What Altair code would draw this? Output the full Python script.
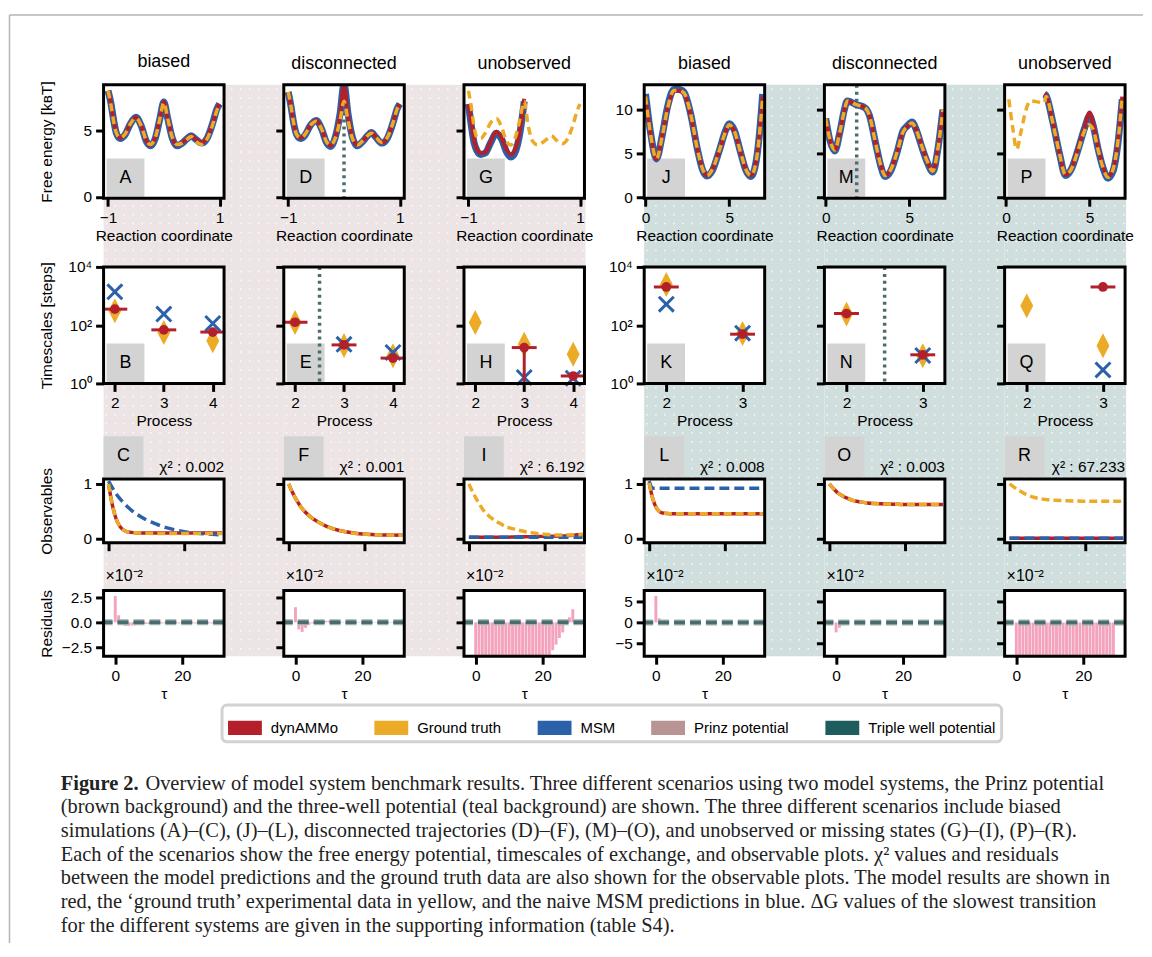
import altair as alt
import pandas as pd

FONT = "Liberation Sans"
SERIF = "Liberation Serif"

# ---------------- colours ----------------
RED = "#B3202C"
YEL = "#EBAB27"
BLUE = "#2B61A8"
DOT = "#4B6C6C"
RESBAR = "#F4A3BD"
BG = ["#EDE5E5", "#D0DEDE"]
BOXGREY = "#D3D3D3"

# ---------------- text ----------------
COL_TITLES = ["biased", "disconnected", "unobserved", "biased", "disconnected", "unobserved"]
ROW_TITLES = ["Free energy [kʙT]", "Timescales [steps]", "Observables", "Residuals"]
X_TITLES = ["Reaction coordinate", "Process", None, "τ"]
PANEL_LETTERS = [
    ["A", "D", "G", "J", "M", "P"],
    ["B", "E", "H", "K", "N", "Q"],
    ["C", "F", "I", "L", "O", "R"],
]
CHI2 = ["0.002", "0.001", "6.192", "0.008", "0.003", "67.233"]
RES_SCALE_TEXT = "×10⁻²"
LEGEND_NAMES = ["dynAMMo", "Ground truth", "MSM", "Prinz potential", "Triple well potential"]
LEGEND_COLORS = [RED, YEL, BLUE, "#B99494", "#1E5C5E"]
CAPTION_HEAD = "Figure 2."
CAPTION_LINES = [
    "Overview of model system benchmark results. Three different scenarios using two model systems, the Prinz potential",
    "(brown background) and the three-well potential (teal background) are shown. The three different scenarios include biased",
    "simulations (A)–(C), (J)–(L), disconnected trajectories (D)–(F), (M)–(O), and unobserved or missing states (G)–(I), (P)–(R).",
    "Each of the scenarios show the free energy potential, timescales of exchange, and observable plots. χ² values and residuals",
    "between the model predictions and the ground truth data are also shown for the observable plots. The model results are shown in",
    "red, the ‘ground truth’ experimental data in yellow, and the naive MSM predictions in blue. ΔG values of the slowest transition",
    "for the different systems are given in the supporting information (table S4).",
]

# ---------------- row 1: free energy ----------------
FE_PRINZ_X = [-1.0, -0.95, -0.9, -0.85, -0.78, -0.7, -0.6, -0.5, -0.4, -0.32, -0.24, -0.15, -0.07,
              0.0, 0.07, 0.15, 0.24, 0.33, 0.42, 0.49, 0.57, 0.68, 0.78, 0.88, 0.95, 1.0]
FE_A_GT = [8.0, 7.0, 5.7, 4.8, 4.45, 4.7, 5.5, 5.95, 5.3, 4.3, 3.95, 4.5, 5.9, 7.1, 5.9, 4.5, 3.95, 4.05, 4.35, 4.55, 4.2, 3.95, 4.4, 5.5, 6.5, 7.0]
FE_A_DYN = [8.0, 7.1, 5.8, 4.85, 4.45, 4.7, 5.5, 6.0, 5.3, 4.3, 3.9, 4.5, 5.9, 7.15, 5.9, 4.5, 3.9, 4.1, 4.4, 4.6, 4.35, 4.1, 4.5, 5.6, 6.6, 7.0]
FE_A_MSM = [8.0, 7.1, 5.8, 4.8, 4.4, 4.65, 5.5, 6.0, 5.3, 4.25, 3.85, 4.45, 5.9, 7.15, 5.9, 4.45, 3.85, 4.05, 4.4, 4.6, 4.35, 4.05, 4.45, 5.6, 6.6, 7.0]
FE_D_GT = [7.9, 6.8, 5.5, 4.7, 4.45, 4.7, 5.4, 5.7, 5.1, 4.2, 3.9, 4.5, 5.8, 7.2, 5.8, 4.4, 3.9, 4.2, 4.6, 4.8, 4.5, 4.1, 4.5, 5.6, 6.6, 7.0]
FE_D_DYN = [7.9, 6.8, 5.5, 4.7, 4.45, 4.7, 5.4, 5.75, 5.1, 4.2, 3.85, 4.6, 6.2, 8.4, 6.2, 4.5, 3.9, 4.2, 4.6, 4.85, 4.5, 4.1, 4.5, 5.6, 6.6, 7.0]
FE_D_MSM = [7.9, 6.8, 5.5, 4.7, 4.4, 4.65, 5.4, 5.75, 5.1, 4.15, 3.8, 4.6, 6.3, 8.5, 6.3, 4.5, 3.85, 4.15, 4.6, 4.85, 4.5, 4.05, 4.45, 5.6, 6.6, 7.0]
FE_G_GT = [8.0, 6.8, 5.3, 4.5, 4.4, 4.8, 5.6, 5.9, 5.2, 4.2, 3.9, 4.6, 6.0, 7.2, 5.4, 4.2, 3.9, 4.1, 4.4, 4.6, 4.3, 4.0, 4.4, 5.5, 6.5, 7.0]
FE_G_DYN = [7.0, 5.6, 4.3, 3.6, 3.3, 3.35, 4.2, 4.9, 4.4, 3.6, 3.2, 3.7, 5.2, 7.4]
FE_G_MSM = [7.0, 5.4, 4.1, 3.5, 3.2, 3.3, 4.1, 4.8, 4.3, 3.4, 3.0, 3.5, 5.0, 7.2]

FE_J_X = [0.0, 0.3, 0.65, 1.0, 1.3, 1.7, 2.0, 2.3, 2.7, 3.1, 3.4, 3.67, 4.0, 4.4, 4.8, 5.0, 5.3, 5.7, 6.0, 6.3, 6.6, 6.8, 7.0]
FE_J_GT = [11.5, 7.2, 4.4, 7.0, 10.0, 12.2, 12.2, 11.9, 9.5, 5.5, 3.3, 2.5, 3.2, 5.3, 7.6, 8.3, 7.6, 5.0, 3.2, 2.5, 4.0, 7.0, 11.5]
FE_J_DYN = [11.5, 7.3, 4.4, 7.0, 10.0, 12.1, 12.2, 11.9, 9.4, 5.5, 3.3, 2.5, 3.2, 5.3, 7.6, 8.3, 7.6, 5.0, 3.2, 2.5, 4.0, 7.0, 11.5]
FE_J_MSM = [11.8, 7.4, 4.4, 7.1, 10.2, 12.3, 12.3, 12.0, 9.5, 5.5, 3.2, 2.45, 3.1, 5.3, 7.7, 8.4, 7.7, 5.0, 3.1, 2.4, 4.0, 7.1, 11.8]

FE_M_X = [0.0, 0.25, 0.54, 0.85, 1.1, 1.29, 1.8, 2.36, 2.6, 3.0, 3.3, 3.54, 3.9, 4.3, 4.6, 4.9, 5.15, 5.45, 5.75, 6.05, 6.4, 6.7, 7.0]
FE_M_GT = [9.0, 6.6, 5.4, 7.5, 9.8, 11.0, 10.6, 10.2, 9.4, 6.0, 3.6, 2.5, 3.2, 5.4, 7.4, 8.1, 8.5, 7.5, 5.8, 4.2, 3.0, 5.5, 10.0]
FE_M_DYN = [9.0, 6.6, 5.4, 7.5, 9.8, 11.0, 10.6, 10.2, 9.4, 6.0, 3.6, 2.5, 3.2, 5.4, 7.4, 8.1, 8.5, 7.5, 5.8, 4.2, 3.0, 5.5, 10.0]
FE_M_MSM = [9.0, 6.5, 5.3, 7.5, 9.9, 11.0, 10.6, 10.2, 9.4, 6.0, 3.5, 2.4, 3.1, 5.4, 7.5, 8.2, 8.6, 7.5, 5.7, 4.1, 2.9, 5.5, 10.0]

FE_P_GT_X = [0.17, 0.4, 0.64, 0.9, 1.2, 1.44, 2.29, 2.4, 2.8, 3.2, 3.56, 3.9, 4.3, 4.7, 4.94, 5.2, 5.5, 5.8, 6.1, 6.4, 6.7, 6.95]
FE_P_GT = [11.2, 8.0, 5.5, 7.5, 10.0, 11.0, 10.8, 11.5, 8.5, 5.0, 2.6, 3.2, 5.3, 7.6, 8.3, 7.8, 5.5, 3.4, 2.3, 3.2, 6.5, 11.5]
FE_P_X = [2.29, 2.4, 2.8, 3.2, 3.56, 3.9, 4.3, 4.7, 5.0, 5.2, 5.5, 5.8, 6.1, 6.4, 6.7, 6.95]
FE_P_DYN = [11.8, 11.6, 8.6, 5.0, 2.6, 3.3, 5.5, 8.0, 9.7, 8.5, 5.8, 3.5, 2.4, 3.2, 6.5, 11.5]
FE_P_MSM = [11.8, 11.6, 8.6, 5.0, 2.5, 3.2, 5.4, 7.9, 9.3, 8.3, 5.6, 3.4, 2.2, 3.0, 6.3, 11.2]

DISCONNECT_FE = {1: 0.0, 4: 1.85}   # column -> reaction coordinate of the cut
DISCONNECT_TS = {1: 2.5, 4: 2.5}    # column -> process position of the cut

# ---------------- row 2: timescales ----------------
PROC_PRINZ = [2, 3, 4]
PROC_TW = [2, 3]
TS_GT = [[310, 56, 29], [124, 20, 8.9], [124, 22, 10], [2500, 52], [240, 8.9], [460, 19.6]]
TS_DYN = [[355, 69, 58], [126, 21, 7.4], [None, 17, 1.8], [2050, 49], [250, 9.6], [None, 2050]]
TS_MSM = [[1400, 240, 114], [None, 22, 11.5], [None, 1.6, 1.5], [525, 53], [None, 9.1], [None, 2.9]]
TS_DYN_LOW = [[None, None, None], [None, None, None], [None, 1.0, None], [None, None], [None, None], [None, None]]

# ---------------- row 3: observables ----------------
OBS_T = [0, 1, 2, 3, 4, 5, 6, 8, 10, 12, 15, 18, 22, 26, 30]
OBS_GT = [
    [1.0, 0.62, 0.36, 0.22, 0.15, 0.12, 0.11, 0.1, 0.095, 0.09, 0.09, 0.09, 0.09, 0.09, 0.09],
    [1.0, 0.84, 0.71, 0.6, 0.51, 0.44, 0.38, 0.29, 0.22, 0.17, 0.12, 0.09, 0.07, 0.06, 0.055],
    [1.0, 0.85, 0.72, 0.6, 0.5, 0.43, 0.37, 0.28, 0.21, 0.17, 0.12, 0.09, 0.065, 0.06, 0.07],
    [1.02, 0.72, 0.55, 0.48, 0.46, 0.455, 0.45, 0.45, 0.45, 0.45, 0.45, 0.45, 0.45, 0.45, 0.45],
    [1.0, 0.92, 0.85, 0.8, 0.76, 0.73, 0.7, 0.67, 0.65, 0.64, 0.63, 0.625, 0.62, 0.62, 0.62],
    [1.0, 0.95, 0.9, 0.86, 0.82, 0.79, 0.76, 0.73, 0.71, 0.7, 0.69, 0.685, 0.68, 0.68, 0.68],
]
OBS_DYN = [
    [1.0, 0.62, 0.36, 0.22, 0.15, 0.12, 0.11, 0.1, 0.1, 0.1, 0.1, 0.1, 0.1, 0.1, 0.1],
    [1.0, 0.84, 0.71, 0.6, 0.51, 0.44, 0.38, 0.29, 0.22, 0.17, 0.12, 0.09, 0.07, 0.06, 0.055],
    [0.02, 0.02, 0.02, 0.02, 0.02, 0.02, 0.02, 0.02, 0.02, 0.025, 0.03, 0.035, 0.04, 0.05, 0.07],
    [1.02, 0.72, 0.55, 0.48, 0.46, 0.455, 0.45, 0.45, 0.45, 0.45, 0.45, 0.45, 0.45, 0.45, 0.45],
    [1.0, 0.92, 0.85, 0.8, 0.76, 0.73, 0.7, 0.67, 0.65, 0.64, 0.63, 0.625, 0.62, 0.62, 0.62],
    [0.0, 0.0, 0.0, 0.0, 0.0, 0.0, 0.0, 0.0, 0.0, 0.0, 0.0, 0.0, 0.0, 0.0, 0.0],
]
OBS_MSM = [
    [1.05, 0.93, 0.82, 0.73, 0.65, 0.58, 0.52, 0.42, 0.34, 0.28, 0.2, 0.15, 0.1, 0.08, 0.065],
    None,
    [0.02, 0.02, 0.02, 0.02, 0.02, 0.02, 0.02, 0.02, 0.02, 0.02, 0.02, 0.02, 0.02, 0.02, 0.02],
    [1.05, 0.92, 0.92, 0.92, 0.92, 0.92, 0.92, 0.92, 0.92, 0.92, 0.92, 0.92, 0.92, 0.92, 0.92],
    None,
    [0.0, 0.0, 0.0, 0.0, 0.0, 0.0, 0.0, 0.0, 0.0, 0.0, 0.0, 0.0, 0.0, 0.0, 0.0],
]

# ---------------- row 4: residuals (x 10^-2) ----------------
RES_T = [0, 1, 2, 3, 4, 5, 6, 7, 8, 9, 10, 11, 12, 13, 14, 15, 16, 17, 18, 19, 20, 21, 22, 23, 24, 25, 26, 27, 28, 29]
RES = [
    [2.6, 0.7, -0.05, -0.35, -0.35, -0.3, -0.3, -0.25, -0.2, -0.15, -0.15, -0.12, -0.1, -0.1, -0.1,
     -0.1, -0.1, -0.1, -0.1, -0.1, -0.1, -0.1, -0.1, -0.1, -0.1, -0.1, -0.1, -0.1, -0.1, -0.1],
    [1.5, -0.7, -0.95, -0.55, -0.25, -0.1, 0.05, 0.1, 0.12, 0.15, 0.15, 0.12, 0.1, 0.08, 0.05,
     0.03, 0.0, -0.03, -0.05, -0.05, -0.05, -0.05, -0.05, -0.05, -0.05, -0.05, -0.05, -0.05, -0.05, -0.05],
    [-3.6, -3.6, -3.6, -3.6, -3.6, -3.6, -3.6, -3.6, -3.6, -3.6, -3.6, -3.6, -3.6, -3.6, -3.6,
     -3.6, -3.6, -3.6, -3.6, -3.6, -3.6, -3.5, -3.4, -2.76, -2.2, -1.55, -1.0, -0.2, 0.5, 1.3],
    [6.4, 1.0, 0.1, 0.05, 0.0, 0.0, 0.0, 0.0, 0.0, 0.0, 0.0, 0.0, 0.0, 0.0, 0.0,
     0.0, 0.0, 0.0, 0.0, 0.0, 0.0, 0.0, 0.0, 0.0, 0.0, 0.0, 0.0, 0.0, 0.0, 0.0],
    [-2.4, -1.3, -0.1, 0.05, 0.0, 0.0, 0.0, 0.0, 0.0, 0.0, 0.0, 0.0, 0.0, 0.0, 0.0,
     0.0, 0.0, 0.0, 0.0, 0.0, 0.0, 0.0, 0.0, 0.0, 0.0, 0.0, 0.0, 0.0, 0.0, 0.0],
    [-9.0, -9.0, -9.0, -9.0, -9.0, -9.0, -9.0, -9.0, -9.0, -9.0, -9.0, -9.0, -9.0, -9.0, -9.0,
     -9.0, -9.0, -9.0, -9.0, -9.0, -9.0, -9.0, -9.0, -9.0, -9.0, -9.0, -9.0, -9.0, -9.0, -9.0],
]

# ---------------- layout ----------------
W = 121
GAPX = 60
S = 48
H = [114, 117, 64, 66]
EXTRA = [0, 21, 48, 0]
HP = [H[i] + EXTRA[i] for i in range(4)]
DOT_PITCH = 9

XDOM = [[[-1.08, 1.08], [-0.08, 7.12]], [[1.77, 4.23], [1.71, 3.29]],
        [[-1.3, 30.5], [-1.3, 30.5]], [[-2.0, 31.0], [-2.0, 31.0]]]
XVALS = [[[-1, 1], [0, 5]], [[2, 3, 4], [2, 3]], [[0, 20], [0, 20]], [[0, 20], [0, 20]]]
YDOM = [[[-0.1, 8.45], [-0.08, 12.85]], [[1, 10000], [1, 10000]],
        [[-0.08, 1.09], [-0.08, 1.09]], [[-3.35, 3.15], [-8.15, 7.7]]]
YVALS = [[[0, 5], [0, 5, 10]], [[1, 100, 10000], [1, 100, 10000]], [[0, 1], [0, 1]],
         [[-2.5, 0, 2.5], [-5, 0, 5]]]
YFMT = [["d", "d"], ["d", "d"], ["d", "d"], [".1f", "d"]]


def mk_axis(values, labels, fmt, is_y, expr=None):
    kw = dict(values=values, labels=labels, format=fmt, domain=False, grid=False, ticks=True,
              tickSize=8, tickWidth=3, tickColor="black", labelColor="black", labelFont=FONT,
              labelFontSize=15.5, labelPadding=4, labelFlush=False, titleFont=FONT,
              titleFontSize=15.5, titleFontWeight="normal", titleColor="black", zindex=1)
    if expr:
        kw["labelExpr"] = expr
    if is_y:
        kw.update(minExtent=40, maxExtent=40, titlePadding=9)
    else:
        kw.update(titlePadding=3)
    return alt.Axis(**kw)


def X(r, c, field="x"):
    g = c // 3
    ax = mk_axis(XVALS[r][g], r != 2, "d", False)
    return alt.X(f"{field}:Q", scale=alt.Scale(domain=XDOM[r][g], nice=False, zero=False),
                 axis=ax, title=X_TITLES[r])


def Y(r, c, field="y"):
    g = c // 3
    expr = None
    if r == 1:
        sc = alt.Scale(type="log", domain=YDOM[r][g], range=[HP[r], EXTRA[r]], nice=False)
        expr = "datum.value == 1 ? '10⁰' : (datum.value == 100 ? '10²' : '10⁴')"
    elif r == 3:
        sc = alt.Scale(domain=YDOM[r][g], range=[HP[r], EXTRA[r]], nice=False, zero=False, clamp=True)
    else:
        sc = alt.Scale(domain=YDOM[r][g], range=[HP[r], EXTRA[r]], nice=False, zero=False)
    ax = mk_axis(YVALS[r][g], c in (0, 3), YFMT[r][g], True, expr)
    return alt.Y(f"{field}:Q", scale=sc, axis=ax, title=ROW_TITLES[r] if c == 0 else None)


ONE = pd.DataFrame({"k": [0]})


def deco_rect(color, x0, x1, y0, y1, **kw):
    return alt.Chart(ONE).mark_rect(color=color, **kw).encode(
        x=alt.value(x0), x2=alt.value(x1), y=alt.value(y0), y2=alt.value(y1))


def deco_text(text, x, y, size=15.5, align="center", baseline="middle", font=FONT, weight="normal", color="black"):
    return alt.Chart(ONE).mark_text(text=text, fontSize=size, align=align, baseline=baseline,
                                    font=font, fontWeight=weight, color=color).encode(
        x=alt.value(x), y=alt.value(y))


def line(r, c, xs, ys, color, width, dash=None, interp="monotone"):
    df = pd.DataFrame({"x": xs, "y": ys})
    kw = dict(color=color, strokeWidth=width, interpolate=interp, clip=True, strokeJoin="round")
    if dash:
        kw["strokeDash"] = dash
    return alt.Chart(df).mark_line(**kw).encode(x=X(r, c), y=Y(r, c))


def fe_layers(c):
    r = 0
    L = []
    if c in DISCONNECT_FE:
        df = pd.DataFrame({"x": [DISCONNECT_FE[c]]})
        L.append(alt.Chart(df).mark_rule(color=DOT, strokeWidth=3.5, strokeDash=[3, 4]).encode(
            x=X(r, c), y=alt.value(EXTRA[r]), y2=alt.value(HP[r])))
    if c == 0:
        sets = (FE_PRINZ_X, FE_A_MSM, FE_PRINZ_X, FE_A_DYN, FE_PRINZ_X, FE_A_GT)
    elif c == 1:
        sets = (FE_PRINZ_X, FE_D_MSM, FE_PRINZ_X, FE_D_DYN, FE_PRINZ_X, FE_D_GT)
    elif c == 2:
        sets = (FE_PRINZ_X[:14], FE_G_MSM, FE_PRINZ_X[:14], FE_G_DYN, FE_PRINZ_X, FE_G_GT)
    elif c == 3:
        sets = (FE_J_X, FE_J_MSM, FE_J_X, FE_J_DYN, FE_J_X, FE_J_GT)
    elif c == 4:
        sets = (FE_M_X, FE_M_MSM, FE_M_X, FE_M_DYN, FE_M_X, FE_M_GT)
    else:
        sets = (FE_P_X, FE_P_MSM, FE_P_X, FE_P_DYN, FE_P_GT_X, FE_P_GT)
    mx, my, dx, dy, gx, gy = sets
    L.append(line(r, c, mx, my, BLUE, 7))
    L.append(line(r, c, dx, dy, RED, 4))
    L.append(line(r, c, gx, gy, YEL, 3.5, [8, 5]))
    return L


def ts_layers(c):
    r = 1
    proc = PROC_PRINZ if c < 3 else PROC_TW
    L = []
    if c in DISCONNECT_TS:
        df = pd.DataFrame({"x": [DISCONNECT_TS[c]]})
        L.append(alt.Chart(df).mark_rule(color=DOT, strokeWidth=3.5, strokeDash=[3, 4]).encode(
            x=X(r, c), y=alt.value(EXTRA[r]), y2=alt.value(HP[r])))
    gt = pd.DataFrame({"x": proc, "y": TS_GT[c]}).dropna()
    L.append(alt.Chart(gt).mark_point(shape="M0,-1L0.52,0L0,1L-0.52,0Z", filled=True, size=625,
                                      color=YEL, opacity=1, strokeWidth=0).encode(x=X(r, c), y=Y(r, c)))
    ms = pd.DataFrame({"x": proc, "y": TS_MSM[c]}).dropna()
    L.append(alt.Chart(ms).mark_point(shape="M-1,-1L1,1M1,-1L-1,1", filled=False, size=225,
                                      color=BLUE, opacity=1, strokeWidth=3).encode(x=X(r, c), y=Y(r, c)))
    err = pd.DataFrame({"x": proc, "y": TS_DYN[c], "lo": TS_DYN_LOW[c]}).dropna()
    if len(err):
        L.append(alt.Chart(err).mark_rule(color=RED, strokeWidth=3).encode(
            x=X(r, c), y=Y(r, c), y2=alt.Y2("lo:Q")))
    dy = pd.DataFrame({"x": proc, "y": TS_DYN[c]}).dropna()
    L.append(alt.Chart(dy).mark_tick(orient="horizontal", size=25, thickness=3, color=RED,
                                     opacity=1).encode(x=X(r, c), y=Y(r, c)))
    L.append(alt.Chart(dy).mark_circle(size=95, color=RED, opacity=1).encode(x=X(r, c), y=Y(r, c)))
    return L


def obs_layers(c):
    r = 2
    L = []
    L.append(line(r, c, OBS_T, OBS_DYN[c], RED, 3.5))
    if OBS_MSM[c] is not None:
        L.append(line(r, c, OBS_T, OBS_MSM[c], BLUE, 3.5, [10, 5]))
    L.append(line(r, c, OBS_T, OBS_GT[c], YEL, 3.5, [8, 4]))
    return L


def res_layers(c):
    r = 3
    L = []
    df = pd.DataFrame({"x": RES_T, "y": RES[c], "zero": [0.0] * len(RES_T)})
    L.append(alt.Chart(df).mark_bar(size=2.9, color=RESBAR).encode(
        x=X(r, c), y=Y(r, c), y2=alt.Y2("zero:Q")))
    z = pd.DataFrame({"y": [0.0]})
    L.append(alt.Chart(z).mark_rule(color="#9DB3B3", strokeWidth=6, strokeDash=[11, 5]).encode(y=Y(r, c)))
    L.append(alt.Chart(z).mark_rule(color=DOT, strokeWidth=3.5, strokeDash=[11, 5]).encode(y=Y(r, c)))
    return L


def cell(r, c):
    g = c // 3
    right = W + 1 if c % 3 == 2 else W + GAPX
    bottom = HP[r] + S + EXTRA[r + 1] if r < 3 else HP[r]
    layers = [deco_rect(BG[g], 0, right, EXTRA[r], bottom)]
    # dotted hatch of the background
    yy = EXTRA[r] + 4.5
    while yy < bottom - 1:
        layers.append(alt.Chart(ONE).mark_rule(color="white", strokeWidth=1.5, strokeDash=[1.5, 7.5],
                                               opacity=0.85).encode(
            x=alt.value(2), x2=alt.value(right), y=alt.value(yy)))
        yy += DOT_PITCH
    layers.append(deco_rect("white", 0, W, EXTRA[r], HP[r]))
    if r in (0, 1):
        layers.append(deco_rect(BOXGREY, 3, 41, HP[r] - 40, HP[r] - 1.5))
        layers.append(deco_text(PANEL_LETTERS[r][c], 22, HP[r] - 20, size=18))
    elif r == 2:
        layers.append(deco_rect(BOXGREY, 0, 40, EXTRA[r] - 43, EXTRA[r] - 2))
        layers.append(deco_text(PANEL_LETTERS[r][c], 20, EXTRA[r] - 23, size=18))
        layers.append(deco_text("χ² : " + CHI2[c], W, EXTRA[r] - 7, size=15.5, align="right",
                                baseline="alphabetic"))
    else:
        layers.append(deco_text(RES_SCALE_TEXT, 2, -15, size=16, align="left"))
    if r == 0:
        layers += fe_layers(c)
    elif r == 1:
        layers += ts_layers(c)
    elif r == 2:
        layers += obs_layers(c)
    else:
        layers += res_layers(c)
    layers.append(alt.Chart(ONE).mark_rect(fillOpacity=0, stroke="black", strokeWidth=3).encode(
        x=alt.value(0), x2=alt.value(W), y=alt.value(EXTRA[r]), y2=alt.value(HP[r])))

    if r == 3 and c == 0:
        # page frame lines (relative to this panel)
        layers.append(alt.Chart(ONE).mark_rule(color="#B4B4B4", strokeWidth=1.5).encode(
            x=alt.value(-94.5), y=alt.value(-578), y2=alt.value(354)))
        layers.append(alt.Chart(ONE).mark_rule(color="#B4B4B4", strokeWidth=1.5).encode(
            x=alt.value(-94.5), x2=alt.value(1044), y=alt.value(-578)))
        leg = pd.DataFrame({"series": LEGEND_NAMES})
        layers.append(alt.Chart(leg).mark_rect().encode(
            x=alt.value(0), x2=alt.value(0), y=alt.value(0), y2=alt.value(0),
            fill=alt.Fill("series:N", title=None,
                          scale=alt.Scale(domain=LEGEND_NAMES, range=LEGEND_COLORS),
                          legend=alt.Legend(orient="none", legendX=119, legendY=623,
                                            direction="horizontal",
                                            symbolType="M-1,-0.42H1V0.42H-1Z", symbolSize=1156,
                                            symbolStrokeWidth=0, symbolOpacity=1,
                                            labelFont=FONT, labelFontSize=15, labelColor="black",
                                            labelOffset=9, columnPadding=36, padding=6,
                                            fillColor="white", strokeColor="#D2D2D2",
                                            cornerRadius=5, labelLimit=400))))
        cy0 = 194
        lh = 23.8
        cx = -43
        layers.append(deco_text(CAPTION_HEAD, cx, cy0, size=20.5, align="left", font=SERIF,
                                weight="bold", color="#222222"))
        for i, ln in enumerate(CAPTION_LINES):
            x0 = cx + 85 if i == 0 else cx
            layers.append(deco_text(ln, x0, cy0 + i * lh, size=20.5, align="left", font=SERIF,
                                    color="#222222"))

    ch = alt.layer(*layers).properties(width=W, height=HP[r])
    if r == 0:
        ch = ch.properties(title=alt.TitleParams(COL_TITLES[c], fontSize=18, font=FONT,
                                                 fontWeight="normal", color="black", offset=10,
                                                 anchor="middle"))
    return ch


cells = [cell(r, c) for r in range(4) for c in range(6)]

chart = alt.ConcatChart(
    concat=cells, columns=6, spacing={"row": S, "column": GAPX}, bounds="flush"
).properties(
    padding={"left": 0, "top": 4, "right": 0, "bottom": 0}
).configure(font=FONT).configure_view(strokeWidth=0).configure_legend(strokeWidth=3)

chart.save("out.html", embed_options={"renderer": "svg", "actions": False})
